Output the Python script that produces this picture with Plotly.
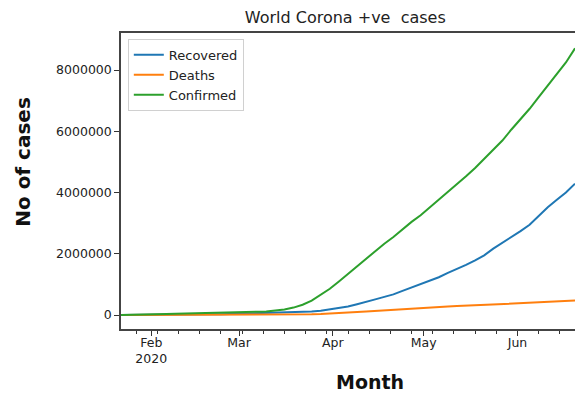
import pandas as pd
import plotly.graph_objects as go

dates = [
    "2020-01-22", "2020-01-25", "2020-01-28", "2020-01-31", "2020-02-03", "2020-02-06",
    "2020-02-09", "2020-02-12", "2020-02-15", "2020-02-18", "2020-02-21", "2020-02-24",
    "2020-02-27", "2020-03-01", "2020-03-04", "2020-03-07", "2020-03-10", "2020-03-13",
    "2020-03-16", "2020-03-19", "2020-03-22", "2020-03-25", "2020-03-28", "2020-03-31",
    "2020-04-03", "2020-04-06", "2020-04-09", "2020-04-12", "2020-04-15", "2020-04-18",
    "2020-04-21", "2020-04-24", "2020-04-27", "2020-04-30", "2020-05-03", "2020-05-06",
    "2020-05-09", "2020-05-12", "2020-05-15", "2020-05-18", "2020-05-21", "2020-05-24",
    "2020-05-27", "2020-05-30", "2020-06-02", "2020-06-05", "2020-06-08", "2020-06-11",
    "2020-06-14", "2020-06-17", "2020-06-20",
]

confirmed = [
    555, 2118, 5578, 9927, 19881, 30818, 40151, 45171, 69032, 74280, 76843, 79556,
    82756, 88371, 95124, 105821, 118592, 145205, 181546, 242713, 337020, 467653, 660706, 857487,
    1095917, 1345101, 1603437, 1846680, 2078605, 2329651, 2549294, 2810325, 3041764, 3256846,
    3506729, 3769040, 4013685, 4261955, 4534731, 4801943, 5102424, 5407613, 5698352, 6059017,
    6387140, 6736310, 7119002, 7502121, 7891120, 8248000, 8708000,
]

recovered = [
    28, 36, 107, 222, 621, 1487, 3244, 5150, 9395, 14352, 22886, 27905,
    36711, 45602, 51171, 57611, 64404, 70251, 77776, 84962, 97704, 113770, 139415, 178034,
    225796, 276515, 354006, 421722, 511019, 592319, 674000, 787000, 893000, 1014000,
    1117000, 1234000, 1375000, 1493000, 1637000, 1787000, 1948000, 2168000, 2351000, 2561000,
    2742000, 2946000, 3235000, 3519000, 3762000, 4001000, 4290000,
]

deaths = [
    17, 56, 131, 213, 426, 636, 908, 1118, 1666, 2006, 2251, 2629,
    2814, 3002, 3262, 3558, 4262, 5404, 7126, 9867, 14630, 21181, 30652, 42107,
    58787, 74565, 95735, 114090, 134178, 160000, 176000, 197000, 211000, 229000,
    244000, 263000, 279000, 291000, 306000, 318000, 333000, 344000, 355000, 369000,
    382000, 399000, 408000, 424000, 436000, 452000, 470000,
]

month_ticks = ["2020-02-01", "2020-03-01", "2020-04-01", "2020-05-01", "2020-06-01"]
month_labels = ["Feb<br>2020", "Mar", "Apr", "May", "Jun"]
y_ticks = [0, 2000000, 4000000, 6000000, 8000000]

x = pd.to_datetime(dates)

fig = go.Figure()
fig.add_trace(go.Scatter(x=x, y=recovered, name="Recovered", mode="lines",
                         line=dict(color="#1f77b4", width=2)))
fig.add_trace(go.Scatter(x=x, y=deaths, name="Deaths", mode="lines",
                         line=dict(color="#ff7f0e", width=2)))
fig.add_trace(go.Scatter(x=x, y=confirmed, name="Confirmed", mode="lines",
                         line=dict(color="#2ca02c", width=2)))

axis_font = dict(family="DejaVu Sans", size=12.5, color="#222")
plot_w = 575 - 121

fig.update_layout(
    width=575, height=394,
    margin=dict(l=121, r=0, t=33, b=65),
    paper_bgcolor="white", plot_bgcolor="white",
    font=dict(family="DejaVu Sans", color="#222"),
    title=dict(text="World Corona +ve\u00a0 cases", xref="paper", x=0.494, xanchor="center",
               y=0.955, yanchor="middle",
               font=dict(family="DejaVu Sans", size=16, color="#222")),
    showlegend=True,
    legend=dict(x=0.015, y=0.98, xanchor="left", yanchor="top",
                bgcolor="rgba(255,255,255,0.9)", bordercolor="#d0d0d0", borderwidth=1,
                font=dict(family="DejaVu Sans", size=13, color="#222"),
                itemwidth=30, tracegroupgap=0),
    annotations=[
        dict(text="<b>No of cases</b>", x=(23 - 121) / plot_w, y=0.565,
             xref="paper", yref="paper", xanchor="center", yanchor="middle",
             textangle=-90, showarrow=False,
             font=dict(family="DejaVu Sans", size=20, color="#111")),
        dict(text="<b>Month</b>", x=(370 - 121) / plot_w, y=-0.179,
             xref="paper", yref="paper", xanchor="center", yanchor="middle",
             showarrow=False,
             font=dict(family="DejaVu Sans", size=19, color="#111")),
    ],
)

fig.update_xaxes(
    range=["2020-01-22", "2020-06-20"],
    tickvals=month_ticks, ticktext=month_labels,
    ticks="outside", ticklen=5, tickcolor="#333", tickfont=axis_font,
    ticklabelstandoff=-4,
    showgrid=False, zeroline=False,
    showline=True, linecolor="#444", linewidth=1.5, mirror=True,
    minor=dict(ticks="outside", ticklen=3, tickcolor="#333",
               dtick=7 * 86400000, tick0="2020-01-27", showgrid=False),
)
fig.update_yaxes(
    range=[-457000, 9210000],
    tickvals=y_ticks, tickformat="d",
    ticks="outside", ticklen=5, tickcolor="#333", tickfont=axis_font,
    showgrid=False, zeroline=False,
    showline=True, linecolor="#444", linewidth=1.5,
)

fig.write_html("out.html", config={"displayModeBar": False},
               post_script="document.body.style.margin='0';"
                           "document.body.style.overflow='hidden';")
